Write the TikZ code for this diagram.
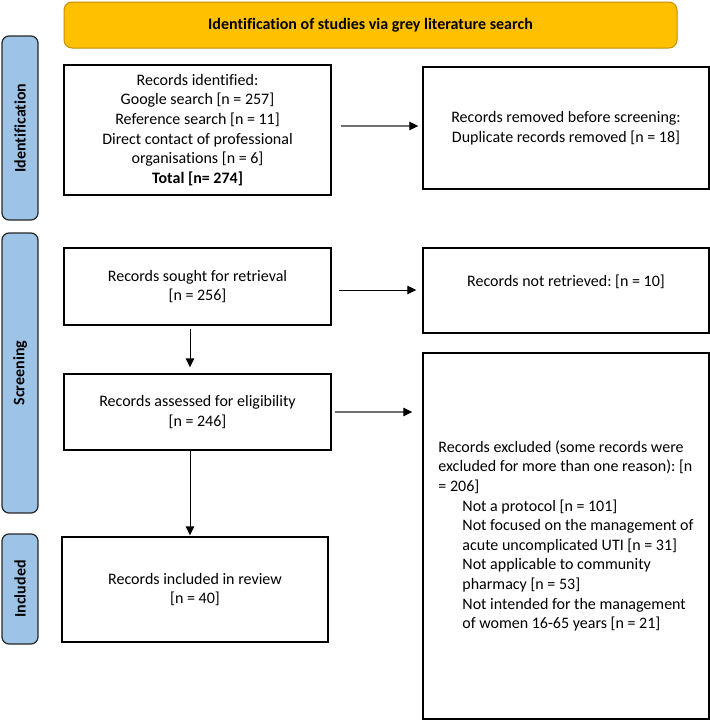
\documentclass[tikz,border=0pt]{standalone}
\usepackage{fontspec}
\setmainfont[Ligatures=NoCommon]{Carlito}
\usetikzlibrary{arrows.meta}
\definecolor{bannergold}{HTML}{FFC000}
\definecolor{bannerline}{HTML}{C09000}
\definecolor{sideblue}{HTML}{9DC3E6}
\definecolor{greyarrow}{HTML}{707070}
\frenchspacing
\begin{document}
\begin{tikzpicture}[x=1pt,y=-1pt,
  txt/.style={font=\fontsize{16}{19.6}\selectfont},
  box/.style={txt,draw=black,line width=1.4pt,fill=white,align=center,inner sep=0pt},
  banner/.style={txt,draw=bannerline,line width=1pt,fill=bannergold,rounded corners=8pt,inner sep=0pt,font=\fontsize{16}{19.6}\selectfont\bfseries},
  side/.style={draw=black!85,line width=1.2pt,fill=sideblue,rounded corners=7pt,minimum height=36pt,inner sep=0pt,rotate=90,font=\fontsize{16}{19.6}\selectfont\bfseries},
  arr/.style={line width=1pt,draw=black,-{Triangle[length=9pt,width=8.5pt,color=black,fill=black]}},
  garr/.style={arr,draw=greyarrow,line width=1.2pt},
]
\useasboundingbox (0,0) rectangle (710,721);

% banner
\node[banner,minimum width=613pt,minimum height=46pt] (title) at (370.5,25) {Identification of studies via grey literature search};

% side bars
\node[side,minimum width=184pt] (sid) at (20,128) {Identification};
\node[side,minimum width=280pt] (sscr) at (20,373) {Screening};
\node[side,minimum width=110pt] (sinc) at (20,589) {Included};

% boxes
\node[box,minimum width=267pt,minimum height=130pt] (ident) at (197.5,130)
  {Records identified:\\Google search {[n = 257]}\\Reference search {[n = 11]}\\Direct contact of professional\\organisations {[n = 6]}\\\textbf{Total [n= 274]}};
\node[box,minimum width=286pt,minimum height=122pt] (removed) at (566,128)
  {Records removed before screening:\\Duplicate records removed {[n = 18]}};
\node[box,minimum width=267pt,minimum height=77pt] (sought) at (197.5,286.5)
  {Records sought for retrieval\\{[n = 256]}};
\node[box,minimum width=286pt,minimum height=85pt] (notret) at (566,290.5)
  {Records not retrieved: {[n = 10]}\\\mbox{}};
\node[box,minimum width=267pt,minimum height=76pt] (assessed) at (197.5,412)
  {Records assessed for eligibility\\{[n = 246]}};
\node[box,minimum width=286pt,minimum height=366pt,align=left] (excluded) at (566,536)
  {Records excluded (some records were\\
   excluded for more than one reason): [n\\
   = 206]\\
   \hspace*{24pt}Not a protocol {[n = 101]}\\
   \hspace*{24pt}Not focused on the management of\\
   \hspace*{24pt}acute uncomplicated UTI {[n = 31]}\\
   \hspace*{24pt}Not applicable to community\\
   \hspace*{24pt}pharmacy {[n = 53]}\\
   \hspace*{24pt}Not intended for the management\\
   \hspace*{24pt}of women 16-65 years {[n = 21]}};
\node[box,minimum width=266pt,minimum height=105pt] (included) at (195,589.5)
  {Records included in review\\{[n = 40]}};

% connectors
\draw[garr,shorten <=9pt,shorten >=4pt] (ident.east |- 0,126) -- (removed.west |- 0,126);
\draw[arr,shorten <=7pt,shorten >=6pt] (sought.east |- 0,290) -- (notret.west |- 0,290);
\draw[arr,shorten <=3pt,shorten >=6pt] (sought.south -| 190,0) -- (assessed.north -| 190,0);
\draw[garr,shorten <=3pt,shorten >=10pt] (assessed.east |- 0,412) -- (excluded.west |- 0,412);
\draw[arr,shorten >=1pt] (assessed.south -| 190,0) -- (included.north -| 190,0);
\end{tikzpicture}
\end{document}
